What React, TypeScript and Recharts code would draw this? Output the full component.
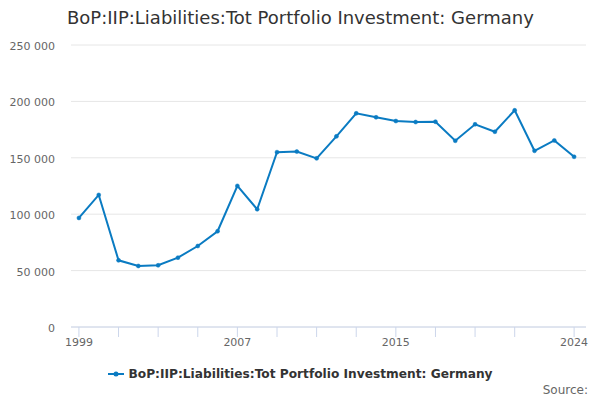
import { CartesianGrid, Legend, Line, LineChart, XAxis, YAxis } from 'recharts';

const years = [
  1999, 2000, 2001, 2002, 2003, 2004, 2005, 2006, 2007, 2008, 2009, 2010, 2011,
  2012, 2013, 2014, 2015, 2016, 2017, 2018, 2019, 2020, 2021, 2022, 2023, 2024,
];
const values = [
  96700, 117100, 59100, 54100, 54700, 61500, 71800, 84900, 125100, 104400, 155000,
  155500, 149500, 169000, 189400, 185900, 182600, 181700, 182000, 165100, 179700,
  173100, 192100, 156200, 165400, 150900,
];
const xTicks = [1999, 2001, 2003, 2005, 2007, 2009, 2011, 2013, 2015, 2017, 2019, 2021, 2024];
const xLabels = [1999, 2007, 2015, 2024];
const yTicks = [0, 50000, 100000, 150000, 200000, 250000];

const seriesName = 'BoP:IIP:Liabilities:Tot Portfolio Investment: Germany';
const color = '#0a7bc2';
const font = '"DejaVu Sans", sans-serif';

const data = years.map((year, i) => ({ year, value: values[i] }));

const fmt = (v: number) => String(v).replace(/\B(?=(\d{3})+(?!\d))/g, ' ');

const XTick = (props: any) => {
  const { x, y, payload } = props;
  if (!xLabels.includes(payload.value)) return null;
  return (
    <text x={x} y={y} dy="0.71em" textAnchor="middle" fill="#666" fontSize={11} fontFamily={font}>
      {payload.value}
    </text>
  );
};

const YTick = (props: any) => {
  const { x, y, payload } = props;
  return (
    <text x={x} y={y} dy={5} textAnchor="end" fill="#666" fontSize={11} fontFamily={font}>
      {fmt(payload.value)}
    </text>
  );
};

const LegendContent = () => (
  <div
    style={{
      display: 'flex',
      justifyContent: 'center',
      alignItems: 'center',
      height: 20,
      fontFamily: font,
      fontSize: 12.2,
      fontWeight: 'bold',
      color: '#333',
    }}
  >
    <svg width={16} height={10} style={{ marginRight: 5 }}>
      <line x1={0} y1={5} x2={16} y2={5} stroke={color} strokeWidth={2} />
      <circle cx={8} cy={5} r={2.5} fill={color} />
    </svg>
    <span>{seriesName}</span>
  </div>
);

export default function App() {
  return (
    <div style={{ position: 'absolute', left: 0, top: 0, width: 600, height: 400, background: '#fff', fontFamily: font }}>
      <div
        style={{
          position: 'absolute',
          left: 67,
          top: 8,
          fontSize: 18,
          lineHeight: '20px',
          color: '#333',
          whiteSpace: 'nowrap',
        }}
      >
        {seriesName}
      </div>
      <LineChart width={600} height={400} data={data} margin={{ top: 45, right: 14, left: 0, bottom: 23 }}>
        <CartesianGrid vertical={false} stroke="#e6e6e6" />
        <XAxis
          dataKey="year"
          type="number"
          domain={[1998.6, 2024.6]}
          ticks={xTicks}
          interval={0}
          height={30}
          tickSize={10}
          tickMargin={1}
          axisLine={{ stroke: '#ccd6eb' }}
          tickLine={{ stroke: '#ccd6eb' }}
          tick={<XTick />}
        />
        <YAxis
          width={71}
          domain={[0, 250000]}
          ticks={yTicks}
          axisLine={false}
          tickLine={false}
          tickSize={0}
          tickMargin={16}
          tick={<YTick />}
        />
        <Legend
          verticalAlign="bottom"
          content={<LegendContent />}
          wrapperStyle={{ top: 364, left: 0, width: 600, height: 20 }}
        />
        <Line
          dataKey="value"
          name={seriesName}
          stroke={color}
          strokeWidth={2}
          dot={{ r: 2, fill: color, stroke: color, strokeWidth: 0.5 }}
          activeDot={false}
          isAnimationActive={false}
        />
      </LineChart>
      <div
        style={{
          position: 'absolute',
          right: 12,
          top: 382,
          fontSize: 12,
          lineHeight: '16px',
          color: '#666',
        }}
      >
        Source:
      </div>
    </div>
  );
}
